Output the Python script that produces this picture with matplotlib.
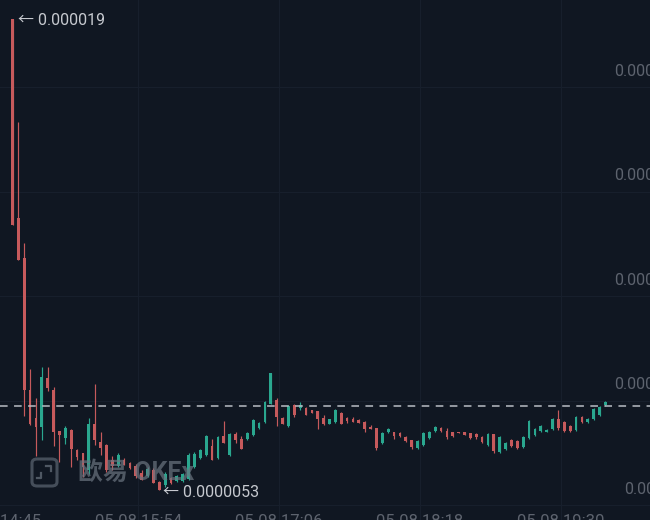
import numpy as np
import matplotlib
matplotlib.use("Agg")
import matplotlib.pyplot as plt
import matplotlib.patches as patches

plt.rcParams['font.family'] = ['Roboto', 'Noto Sans CJK SC', 'DejaVu Sans']

# prices in 1e-8, 3 minute candles
opens = [1897, 1325, 1210, 830, 750, 724, 865, 830, 713, 693, 716, 658, 650, 601, 733, 681, 672,
         629, 612, 629, 621, 612, 592, 583, 601, 566, 557, 578, 569, 569, 575, 609, 635, 644,
         670, 635, 698, 644, 704, 690, 690, 701, 721, 739, 790, 802, 750, 727, 787, 779, 779,
         772, 770, 750, 733, 739, 764, 750, 747, 744, 739, 724, 721, 678, 710, 710, 707, 695,
         687, 664, 672, 693, 713, 721, 713, 710, 710, 710, 707, 704, 695, 672, 704, 652, 661,
         687, 684, 667, 693, 701, 713, 710, 718, 747, 739, 727, 716, 753, 739, 747, 759, 787]
highs = [1897, 1601, 1253, 891, 808, 897, 897, 839, 713, 727, 718, 661, 650, 750, 848, 710, 675,
         641, 650, 635, 624, 618, 601, 609, 606, 569, 595, 581, 586, 592, 650, 652, 661, 701,
         690, 698, 741, 707, 710, 698, 710, 747, 739, 799, 879, 808, 753, 787, 790, 796, 782,
         773, 770, 759, 747, 776, 767, 753, 753, 747, 741, 730, 721, 710, 721, 710, 710, 698,
         687, 687, 710, 713, 727, 724, 721, 710, 710, 710, 707, 707, 698, 707, 704, 698, 681,
         690, 687, 698, 744, 721, 730, 718, 750, 773, 741, 730, 756, 756, 750, 779, 785, 799]
lows = [1305, 1204, 756, 730, 641, 687, 828, 670, 624, 675, 609, 629, 581, 589, 672, 644, 595,
        601, 609, 615, 603, 578, 572, 581, 563, 543, 552, 560, 566, 566, 572, 606, 632, 641,
        629, 632, 678, 641, 678, 661, 687, 698, 718, 736, 790, 727, 733, 724, 753, 773, 759,
        764, 718, 730, 733, 736, 733, 736, 739, 736, 710, 718, 658, 675, 707, 690, 695, 681,
        661, 661, 670, 690, 710, 710, 690, 695, 707, 701, 690, 690, 678, 670, 650, 650, 658,
        667, 661, 664, 690, 698, 710, 710, 716, 716, 710, 710, 713, 736, 736, 744, 756, 785]
closes = [1305, 1204, 830, 733, 724, 868, 836, 710, 701, 721, 661, 638, 609, 733, 687, 664, 601,
          612, 644, 615, 606, 583, 572, 603, 563, 543, 589, 563, 583, 589, 644, 647, 658, 698,
          629, 695, 678, 704, 687, 661, 707, 744, 736, 796, 879, 753, 733, 785, 759, 787, 759,
          764, 747, 733, 747, 773, 733, 741, 739, 736, 718, 718, 664, 707, 718, 698, 698, 684,
          667, 684, 707, 710, 724, 713, 695, 698, 707, 701, 693, 695, 681, 704, 655, 695, 678,
          670, 664, 695, 741, 718, 727, 716, 747, 721, 713, 713, 753, 739, 747, 776, 782, 796]

y_ticks = [500, 800, 1100, 1400, 1700]
y_labels = ['0.000005', '0.000008', '0.000011', '0.000014', '0.000017']
x_ticks = [-2.55, 21.4, 45.4, 69.4, 93.4]
x_labels = ['05-08 14:45', '05-08 15:54', '05-08 17:06', '05-08 18:18', '05-08 19:30']
last_price = 785
high_label = '← 0.000019'
low_label = '← 0.0000053'

BG = '#101722'
RED = '#c65a5c'
GREEN = '#2aa78f'
GRID = '#171f2c'
AXIS_TEXT = '#5d636e'

opens = np.array(opens) * 1e-8
highs = np.array(highs) * 1e-8
lows = np.array(lows) * 1e-8
closes = np.array(closes) * 1e-8
idx = np.arange(len(opens))
colors = [GREEN if c > o else RED for o, c in zip(opens, closes)]

fig = plt.figure(figsize=(6.5, 5.2), dpi=100, facecolor=BG)
ax = fig.add_axes([0, 0, 1, 1], facecolor=BG)
for s in ax.spines.values():
    s.set_visible(False)

# grid
ax.set_yticks(np.array(y_ticks) * 1e-8)
ax.set_xticks(x_ticks)
ax.tick_params(length=0, labelbottom=False, labelleft=False)
ax.grid(True, color=GRID, lw=0.8)
ax.set_axisbelow(True)

# limits after the ticks, set_xticks widens them otherwise
ax.set_xlim(-2.13, 108.6)
ax.set_ylim(456.9e-8, 1951.4e-8)

# candles
ax.vlines(idx, lows, highs, color=colors, lw=0.85, zorder=3)
ax.bar(idx, np.abs(closes - opens), bottom=np.minimum(opens, closes), width=0.47,
       color=colors, lw=0, zorder=3)

# last price
ax.axhline(last_price * 1e-8, color='#b9bdc4', lw=1.1, dashes=(5, 4.2), zorder=4)

# axis labels sit above their grid lines and run off the edge
for t, lab in zip(y_ticks, y_labels):
    dx = -26 if t == 500 else -36
    ax.annotate(lab, xy=(1, t * 1e-8), xycoords=ax.get_yaxis_transform(),
                xytext=(dx, 16), textcoords='offset pixels',
                fontsize=11.5, color=AXIS_TEXT, va='center', ha='left', annotation_clip=False)
for t, lab in zip(x_ticks, x_labels):
    ax.annotate(lab, xy=(t, 0), xycoords=ax.get_xaxis_transform(),
                xytext=(0, -1), textcoords='offset pixels',
                fontsize=12, color=AXIS_TEXT, va='center', ha='center', annotation_clip=False)

# high / low markers
ax.annotate(high_label, xy=(idx[0], highs[0]), xytext=(5, -2), textcoords='offset pixels',
            fontsize=11.5, color='#c6c9cf', va='center', ha='left', zorder=6, annotation_clip=False)
ax.annotate(low_label, xy=(idx[25], lows[25]), xytext=(4, -2), textcoords='offset pixels',
            fontsize=11.5, color='#c6c9cf', va='center', ha='left', zorder=6, annotation_clip=False)

# watermark
wm = '#6a7480'
fig.patches.append(patches.FancyBboxPatch((32 / 650, 1 - 486 / 520), 25 / 650, 27 / 520,
                                          boxstyle='round,pad=0,rounding_size=0.008',
                                          transform=fig.transFigure, fc='none', ec=wm,
                                          lw=2.2, alpha=0.6, zorder=8))
for xs, ys in [((41, 41, 37), (473, 478, 478)), ((46, 51, 51), (466, 466, 471))]:
    fig.add_artist(plt.Line2D(np.array(xs) / 650, 1 - np.array(ys) / 520, color=wm, lw=1.6,
                              alpha=0.7, zorder=8))
fig.text(78 / 650, 1 - 473 / 520, '欧易 OKEx', fontsize=18, fontweight='bold', color=wm,
         alpha=0.7, va='center', ha='left', zorder=8)

fig.savefig('out.png', dpi=100, facecolor=BG)
